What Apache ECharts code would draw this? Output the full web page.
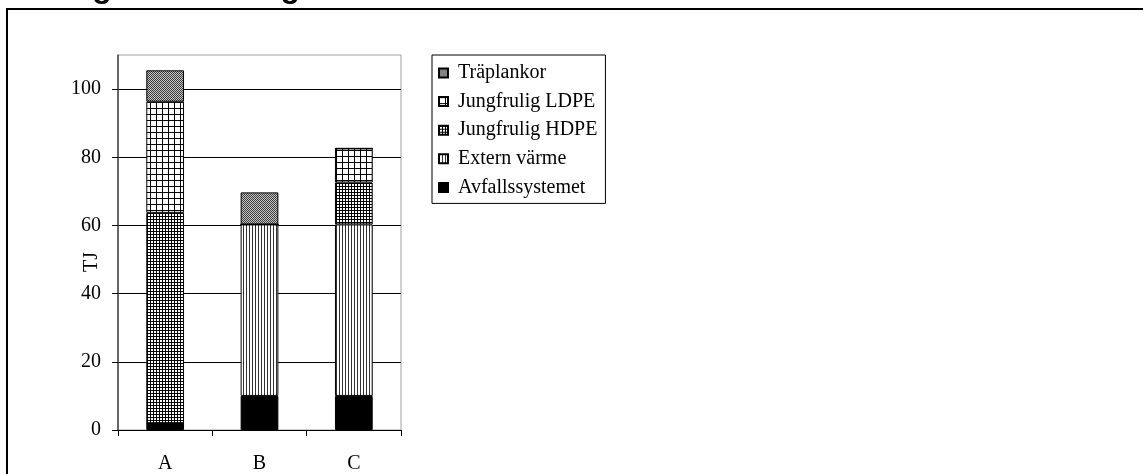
<!DOCTYPE html>
<html>
<head>
<meta charset="utf-8">
<script src="https://cdn.jsdelivr.net/npm/echarts@6/dist/echarts.min.js"></script>
<style>
html,body{margin:0;padding:0;background:#fff;}
#chart{width:1143px;height:474px;}
</style>
</head>
<body>
<div id="chart"></div>
<script>
// ---- data ----
const categories = ['A', 'B', 'C'];
const avfallssystemet = [2, 10, 10];
const externVarme = [0, 50.3, 50.3];
const jungfruligHDPE = [61.7, 0, 12.3];
const jungfruligLDPE = [32.6, 0, 10];
const traplankor = [9.2, 9.4, 0];
const yTicks = [0, 20, 40, 60, 80, 100];
const yMax = 110;
const titleText = 'Energianvändning';
const yName = 'TJ';

// ---- patterns ----
function pattern(w, h, draw) {
  const c = document.createElement('canvas');
  c.width = w; c.height = h;
  const ctx = c.getContext('2d');
  ctx.fillStyle = '#fff';
  ctx.fillRect(0, 0, w, h);
  draw(ctx);
  return { image: c, repeat: 'repeat' };
}
const patTra = pattern(2, 2, ctx => {
  ctx.fillStyle = '#c8c8c8'; ctx.fillRect(0, 0, 2, 2);
  ctx.fillStyle = '#3a3a3a'; ctx.fillRect(0, 0, 1, 1); ctx.fillRect(1, 1, 1, 1);
});
const patLDPE = pattern(6, 6, ctx => {
  ctx.fillStyle = '#000'; ctx.fillRect(0, 0, 6, 1); ctx.fillRect(0, 0, 1, 6);
});
const patHDPE = pattern(3, 3, ctx => {
  ctx.fillStyle = '#000'; ctx.fillRect(0, 0, 3, 1); ctx.fillRect(0, 0, 1, 3);
});
const patExtern = pattern(3, 1, ctx => {
  ctx.fillStyle = '#333'; ctx.fillRect(0, 0, 1, 1);
});

const serif = '"Liberation Serif", "Times New Roman", serif';
function bar(name, data, color) {
  return {
    name, type: 'bar', stack: 'tot', data, barWidth: '40%',
    itemStyle: { color, borderColor: '#000', borderWidth: 1 },
    emphasis: { disabled: true }
  };
}

const chart = echarts.init(document.getElementById('chart'), null, { renderer: 'canvas' });
chart.setOption({
  animation: false,
  backgroundColor: '#fff',
  grid: {
    left: 118, right: 742, top: 55, bottom: 40,
    show: true, borderColor: '#a0a0a0', borderWidth: 1, backgroundColor: 'transparent'
  },
  graphic: [
    { type: 'rect', shape: { x: 7, y: 9, width: 1300, height: 700 },
      style: { fill: 'none', stroke: '#000', lineWidth: 2 }, z: 100 },
    { type: 'text', x: 21, y: -12,
      style: { text: titleText, font: 'bold 32px "Liberation Sans", Arial, sans-serif',
               fill: '#000', textVerticalAlign: 'middle' }, z: 100 },
    { type: 'text', x: 92, y: 262, rotation: Math.PI / 2,
      style: { text: yName, font: '20px "Liberation Serif", "Times New Roman", serif',
               fill: '#000', textAlign: 'center', textVerticalAlign: 'middle' }, z: 100 }
  ],
  legend: {
    orient: 'vertical', left: 432, top: 55,
    data: ['Träplankor', 'Jungfrulig LDPE', 'Jungfrulig HDPE', 'Extern värme', 'Avfallssystemet'],
    itemWidth: 9, itemHeight: 9, itemGap: 8.6,
    icon: 'rect',
    borderColor: '#000', borderWidth: 1,
    padding: [8, 8, 6, 6],
    textStyle: { fontFamily: serif, fontSize: 20, color: '#000', padding: [0, 0, 0, 5] },
    selectedMode: false
  },
  xAxis: {
    type: 'category', data: categories,
    axisLine: { lineStyle: { color: '#000', width: 1 } },
    axisTick: { show: true, length: 6, lineStyle: { color: '#000' } },
    axisLabel: { fontFamily: serif, fontSize: 20, color: '#000', margin: 24 },
    splitLine: { show: false }
  },
  yAxis: {
    type: 'value', min: 0, max: yMax,
    axisLine: { show: true, lineStyle: { color: '#444', width: 1.5 } },
    axisTick: { show: true, length: 6, lineStyle: { color: '#000' }, customValues: yTicks },
    axisLabel: { fontFamily: serif, fontSize: 20, color: '#000', margin: 17, customValues: yTicks },
    splitLine: { show: true, lineStyle: { color: '#000', width: 1 } }
  },
  series: [
    bar('Avfallssystemet', avfallssystemet, '#000'),
    bar('Extern värme', externVarme, patExtern),
    bar('Jungfrulig HDPE', jungfruligHDPE, patHDPE),
    bar('Jungfrulig LDPE', jungfruligLDPE, patLDPE),
    bar('Träplankor', traplankor, patTra)
  ]
});
</script>
</body>
</html>
